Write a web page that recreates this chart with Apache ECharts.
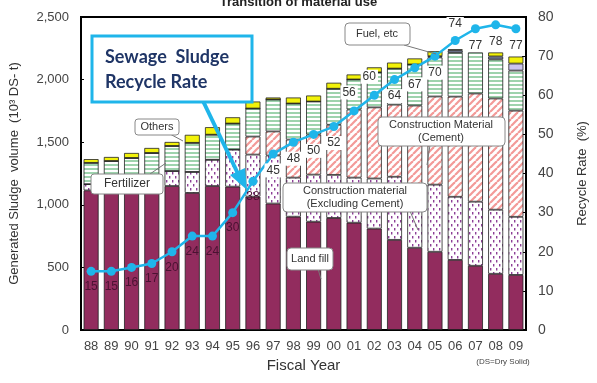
<!DOCTYPE html>
<html>
<head>
<meta charset="utf-8">
<script src="https://cdn.jsdelivr.net/npm/echarts@6/dist/echarts.min.js"></script>
<style>
  html, body { margin: 0; padding: 0; background: #fff; }
  #chart { width: 597px; height: 383px; }
</style>
</head>
<body>
<div id="chart"></div>
<script>
// fiscal years
var years = ['88', '89', '90', '91', '92', '93', '94', '95', '96', '97', '98', '99', '00', '01', '02', '03', '04', '05', '06', '07', '08', '09'];
// generated sludge volume by use (10^3 DS-t)
var landFill = [1115, 1105, 1105, 1113, 1150, 1095, 1150, 1145, 1065, 1010, 905, 865, 895, 857, 810, 720, 657, 625, 560, 513, 449, 440];
var exclCement = [50, 5, 5, 5, 120, 168, 210, 296, 336, 384, 312, 376, 344, 360, 400, 504, 504, 536, 504, 512, 512, 464];
var cement = [0, 0, 0, 0, 0, 0, 0, 0, 144, 192, 304, 320, 400, 544, 568, 576, 632, 704, 800, 864, 888, 848];
var fertilizer = [170, 240, 264, 296, 200, 232, 200, 208, 224, 255, 288, 264, 288, 240, 280, 288, 328, 312, 350, 328, 312, 320];
var fuel = [0, 0, 0, 0, 0, 0, 0, 0, 0, 0, 0, 0, 0, 0, 0, 0, 0, 10, 20, 40, 24, 56];
var others = [30, 32, 40, 40, 32, 64, 60, 50, 56, 16, 48, 48, 48, 40, 40, 48, 48, 40, 8, 0, 32, 56];
// recycle rate (%)
var recycleRate = [15, 15, 16, 17, 20, 24, 24, 30, 38, 45, 48, 50, 52, 56, 60, 64, 67, 70, 74, 77, 78, 77];

var FONT = 'Liberation Sans';

function makePattern(w, h, draw) {
  var c = document.createElement('canvas');
  c.width = w; c.height = h;
  var ctx = c.getContext('2d');
  ctx.fillStyle = '#fff';
  ctx.fillRect(0, 0, w, h);
  draw(ctx);
  return { image: c, repeat: 'repeat' };
}

var greenStripes = makePattern(4, 4, function (ctx) {
  ctx.fillStyle = '#9ed3ad';
  ctx.fillRect(0, 0, 4, 2);
});
var pinkStripes = makePattern(7, 7, function (ctx) {
  ctx.strokeStyle = '#f39a98';
  ctx.lineWidth = 2.2;
  for (var k = -7; k <= 14; k += 7) {
    ctx.beginPath();
    ctx.moveTo(k, 7);
    ctx.lineTo(k + 7, 0);
    ctx.stroke();
  }
});
var purpleDots = makePattern(6, 8, function (ctx) {
  ctx.fillStyle = '#8d3f97';
  ctx.fillRect(1, 0, 1.4, 2.5);
  ctx.fillRect(4, 4, 1.4, 2.5);
});

var barBase = {
  type: 'bar',
  stack: 'vol',
  barWidth: 15,
  yAxisIndex: 0
};
function barSeries(name, data, color) {
  return Object.assign({}, barBase, {
    name: name,
    data: data,
    itemStyle: { color: color, borderColor: '#222', borderWidth: 0.8 }
  });
}

var rateData = recycleRate.map(function (v, i) {
  var pos = 'bottom';
  var off = [0, 0];
  if (i === 13 || i === 14) { pos = 'top'; off = [-5, -2]; }
  if (i === 18) { pos = 'top'; }
  var early = i < 9;
  return {
    value: v,
    label: {
      position: pos,
      offset: off,
      color: early ? '#4a1232' : '#333',
      backgroundColor: early ? 'transparent' : '#fff',
      padding: early ? 0 : [1, 2]
    }
  };
});

var option = {
  animation: false,
  title: {
    text: 'Transition of material use',
    left: 'center',
    top: -9,
    textStyle: { fontFamily: FONT, fontSize: 13, fontWeight: 'bold', color: '#222' }
  },
  grid: {
    left: 70, right: 61, top: 17, bottom: 53,
    show: true, borderColor: '#000', borderWidth: 2
  },
  xAxis: {
    type: 'category',
    data: years,
    name: 'Fiscal Year',
    nameLocation: 'middle',
    nameGap: 26,
    nameTextStyle: { fontFamily: FONT, fontSize: 15, color: '#333' },
    axisLine: { lineStyle: { color: '#000', width: 2 } },
    axisTick: { inside: true, length: 3, lineStyle: { color: '#000' } },
    axisLabel: { fontFamily: FONT, fontSize: 13, color: '#444', margin: 10 }
  },
  yAxis: [
    {
      type: 'value',
      min: 0, max: 2500, interval: 500,
      name: 'Generated Sludge  volume  (10³ DS- t)',
      nameLocation: 'middle',
      nameRotate: 90,
      nameGap: 60,
      nameTextStyle: { fontFamily: FONT, fontSize: 13, color: '#333' },
      splitLine: { show: false },
      axisLine: { show: true, lineStyle: { color: '#000', width: 2 } },
      axisTick: { show: true, inside: true, length: 3, lineStyle: { color: '#000' } },
      axisLabel: {
        fontFamily: FONT, fontSize: 13, color: '#444', margin: 12,
        formatter: function (v) { return v.toLocaleString('en-US'); }
      }
    },
    {
      type: 'value',
      min: 0, max: 80, interval: 10,
      name: 'Recycle Rate  (%)',
      nameLocation: 'middle',
      nameRotate: 90,
      nameGap: 50,
      nameTextStyle: { fontFamily: FONT, fontSize: 13, color: '#333' },
      splitLine: { show: false },
      axisLine: { show: true, lineStyle: { color: '#000', width: 2 } },
      axisTick: { show: true, inside: true, length: 4, lineStyle: { color: '#000' } },
      axisLabel: { fontFamily: FONT, fontSize: 14, color: '#444', margin: 12 }
    }
  ],
  series: [
    barSeries('Land fill', landFill, '#922c5e'),
    barSeries('Construction material (Excluding Cement)', exclCement, purpleDots),
    barSeries('Construction Material (Cement)', cement, pinkStripes),
    barSeries('Fertilizer', fertilizer, greenStripes),
    Object.assign(barSeries('Fuel, etc', fuel, '#8a93ad'), {
      itemStyle: {
        borderColor: '#222', borderWidth: 0.8,
        color: function (p) { return p.dataIndex === 21 ? '#cbc4ef' : '#7f88a6'; }
      }
    }),
    barSeries('Others', others, '#f2f20a'),
    {
      name: 'Recycle Rate',
      type: 'line',
      yAxisIndex: 1,
      data: rateData,
      symbol: 'circle',
      symbolSize: 9,
      lineStyle: { color: '#1fb5ea', width: 2.5 },
      itemStyle: { color: '#1fb5ea' },
      label: {
        show: true,
        distance: 5,
        fontFamily: FONT,
        fontSize: 12
      },
      z: 5
    }
  ],
  graphic: [
    // big callout for the rate line
    { type: 'polyline', shape: { points: [[203, 101], [241, 180]] }, style: { stroke: '#1fb5ea', lineWidth: 4, fill: null }, z: 20 },
    { type: 'polygon', shape: { points: [[247, 190], [230, 175], [245, 168]] }, style: { fill: '#1fb5ea' }, z: 20 },
    { type: 'rect', shape: { x: 92, y: 36, width: 160, height: 66 }, style: { fill: '#fff', stroke: '#1fb5ea', lineWidth: 3 }, z: 21 },
    { type: 'text', x: 105, y: 45, style: { text: 'Sewage  Sludge\nRecycle Rate', font: 'bold 18px Lato', fill: '#1f3566', lineHeight: 25 }, z: 22 },

    // Others
    { type: 'polyline', shape: { points: [[170, 134], [183, 141]] }, style: { stroke: '#777', lineWidth: 1, fill: null }, z: 20 },
    { type: 'rect', shape: { x: 135, y: 119, width: 44, height: 16, r: 3 }, style: { fill: '#fff', stroke: '#888', lineWidth: 1 }, z: 21 },
    { type: 'text', x: 157, y: 127, style: { text: 'Others', font: '11px ' + FONT, fill: '#333', align: 'center', verticalAlign: 'middle' }, z: 22 },

    // Fertilizer
    { type: 'polyline', shape: { points: [[150, 174], [166, 163]] }, style: { stroke: '#777', lineWidth: 1, fill: null }, z: 20 },
    { type: 'rect', shape: { x: 91, y: 174, width: 72, height: 20, r: 3 }, style: { fill: '#fff', stroke: '#888', lineWidth: 1 }, z: 21 },
    { type: 'text', x: 127, y: 184, style: { text: 'Fertilizer', font: '12px ' + FONT, fill: '#333', align: 'center', verticalAlign: 'middle' }, z: 22 },

    // Fuel, etc
    { type: 'polyline', shape: { points: [[404, 45], [436, 54]] }, style: { stroke: '#777', lineWidth: 1, fill: null }, z: 20 },
    { type: 'rect', shape: { x: 345, y: 23, width: 65, height: 22, r: 4 }, style: { fill: '#fff', stroke: '#888', lineWidth: 1 }, z: 21 },
    { type: 'text', x: 377, y: 34, style: { text: 'Fuel, etc', font: '11px ' + FONT, fill: '#333', align: 'center', verticalAlign: 'middle' }, z: 22 },

    // Construction Material (Cement)
    { type: 'polyline', shape: { points: [[430, 145], [427, 165]] }, style: { stroke: '#777', lineWidth: 1, fill: null }, z: 20 },
    { type: 'rect', shape: { x: 378, y: 117, width: 127, height: 29, r: 4 }, style: { fill: '#fff', stroke: '#888', lineWidth: 1 }, z: 21 },
    { type: 'text', x: 441, y: 131, style: { text: 'Construction Material\n(Cement)', font: '11px ' + FONT, fill: '#333', align: 'center', verticalAlign: 'middle', lineHeight: 13 }, z: 22 },

    // Construction material (Excluding Cement)
    { type: 'polyline', shape: { points: [[410, 211], [418, 230]] }, style: { stroke: '#777', lineWidth: 1, fill: null }, z: 20 },
    { type: 'rect', shape: { x: 283, y: 183, width: 144, height: 29, r: 4 }, style: { fill: '#fff', stroke: '#888', lineWidth: 1 }, z: 21 },
    { type: 'text', x: 355, y: 197, style: { text: 'Construction material\n(Excluding Cement)', font: '11px ' + FONT, fill: '#333', align: 'center', verticalAlign: 'middle', lineHeight: 13 }, z: 22 },

    // Land fill
    { type: 'polyline', shape: { points: [[318, 269], [321, 279]] }, style: { stroke: '#777', lineWidth: 1, fill: null }, z: 20 },
    { type: 'rect', shape: { x: 287, y: 248, width: 46, height: 22, r: 4 }, style: { fill: '#fff', stroke: '#888', lineWidth: 1 }, z: 21 },
    { type: 'text', x: 310, y: 259, style: { text: 'Land fill', font: '11px ' + FONT, fill: '#333', align: 'center', verticalAlign: 'middle' }, z: 22 },

    // footnote
    { type: 'text', x: 503, y: 362, style: { text: '(DS=Dry Solid)', font: '8px ' + FONT, fill: '#444', align: 'center', verticalAlign: 'middle' }, z: 22 }
  ]
};

var chart = echarts.init(document.getElementById('chart'));
chart.setOption(option);
</script>
</body>
</html>
